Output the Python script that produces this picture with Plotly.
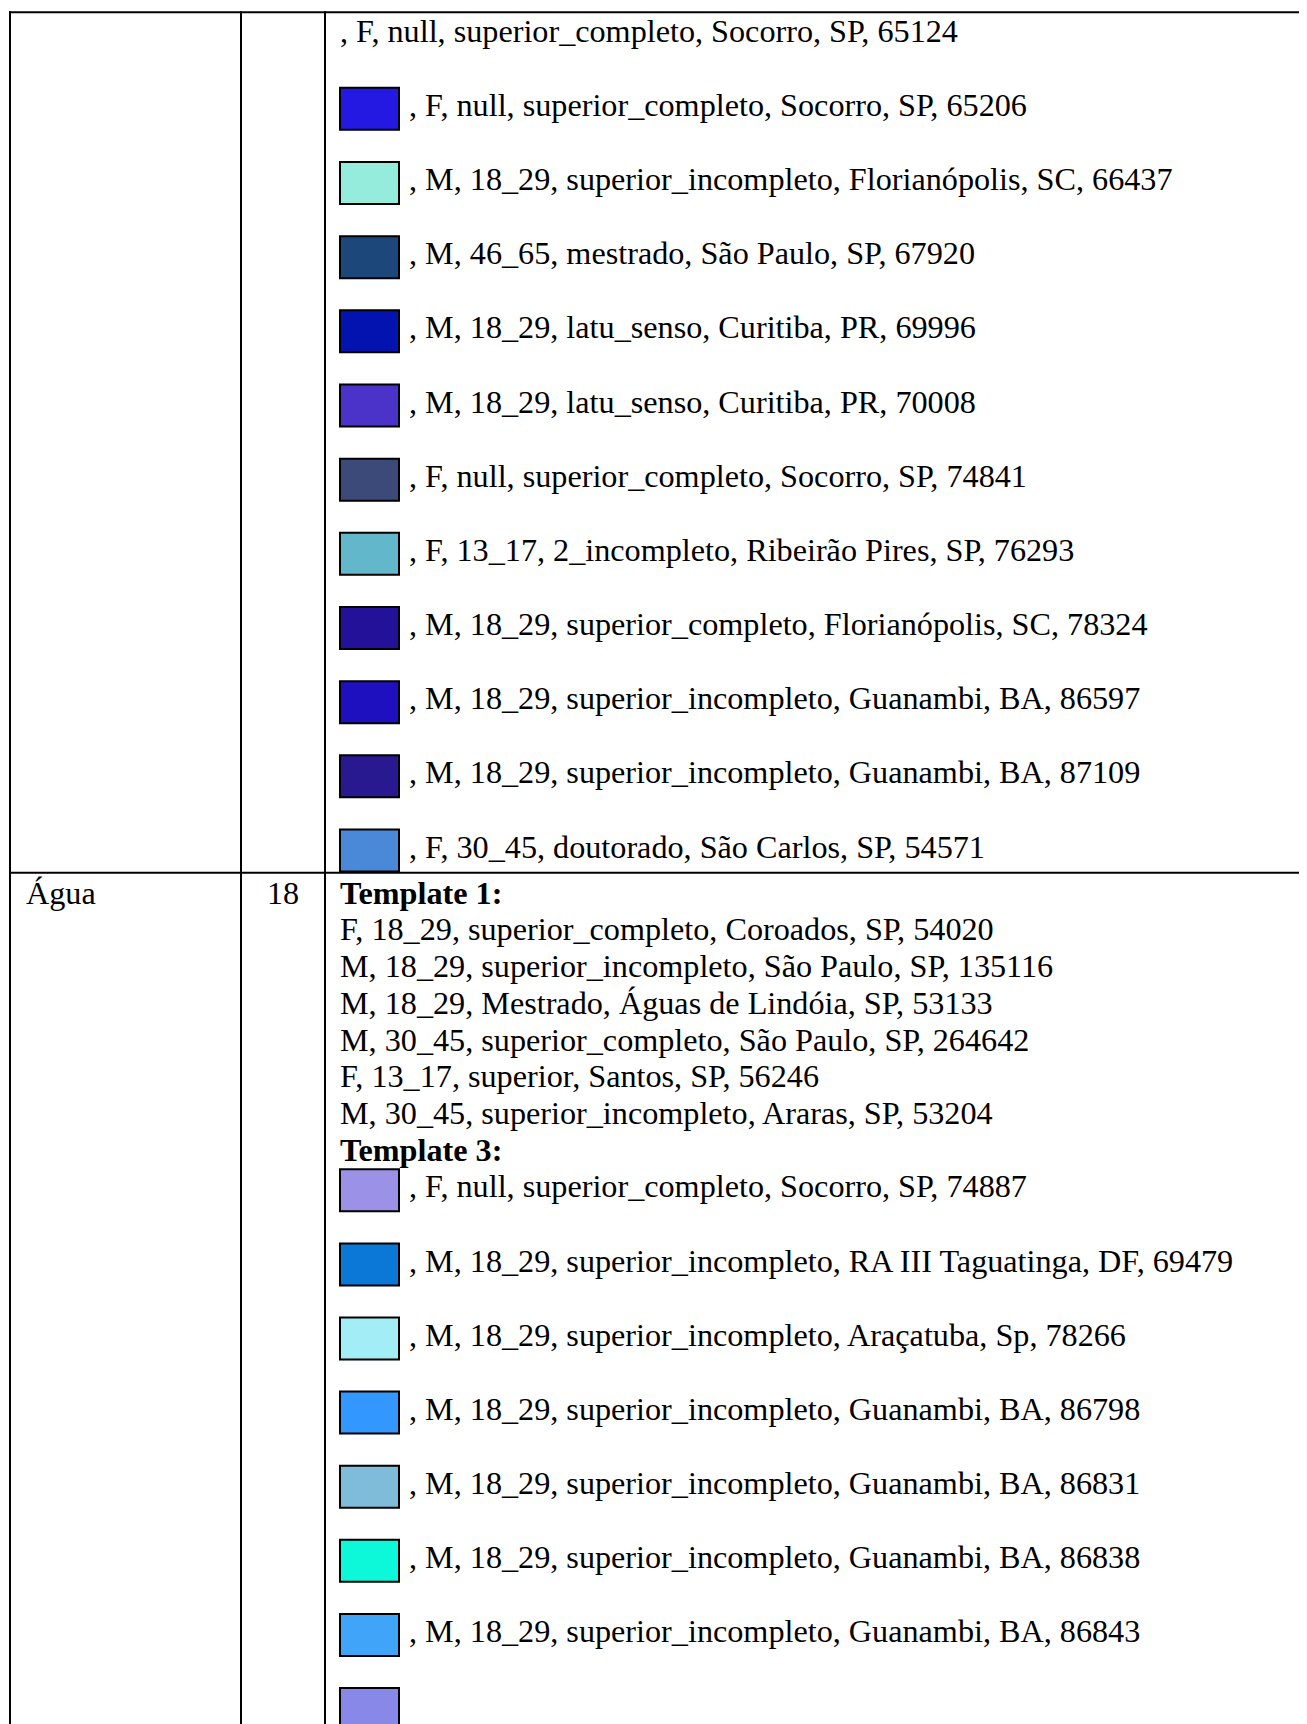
import plotly.graph_objects as go

# ---------------- data ----------------
cell1_texts = [
    ", F, null, superior_completo, Socorro, SP, 65124",
    ", F, null, superior_completo, Socorro, SP, 65206",
    ", M, 18_29, superior_incompleto, Florianópolis, SC, 66437",
    ", M, 46_65, mestrado, São Paulo, SP, 67920",
    ", M, 18_29, latu_senso, Curitiba, PR, 69996",
    ", M, 18_29, latu_senso, Curitiba, PR, 70008",
    ", F, null, superior_completo, Socorro, SP, 74841",
    ", F, 13_17, 2_incompleto, Ribeirão Pires, SP, 76293",
    ", M, 18_29, superior_completo, Florianópolis, SC, 78324",
    ", M, 18_29, superior_incompleto, Guanambi, BA, 86597",
    ", M, 18_29, superior_incompleto, Guanambi, BA, 87109",
    ", F, 30_45, doutorado, São Carlos, SP, 54571",
]
cell1_colors = [
    None,
    "#2419E2", "#96ECDC", "#1C477A", "#0213B0", "#4B32C8",
    "#3C4A7A", "#63B7CA", "#23119A", "#1F10BF", "#281990", "#4A88D8",
]

row2_label = "Água"
row2_count = "18"

template1_title = "Template 1:"
template1_lines = [
    "F, 18_29, superior_completo, Coroados, SP, 54020",
    "M, 18_29, superior_incompleto, São Paulo, SP, 135116",
    "M, 18_29, Mestrado, Águas de Lindóia, SP, 53133",
    "M, 30_45, superior_completo, São Paulo, SP, 264642",
    "F, 13_17, superior, Santos, SP, 56246",
    "M, 30_45, superior_incompleto, Araras, SP, 53204",
]

template3_title = "Template 3:"
template3_texts = [
    ", F, null, superior_completo, Socorro, SP, 74887",
    ", M, 18_29, superior_incompleto, RA III Taguatinga, DF, 69479",
    ", M, 18_29, superior_incompleto, Araçatuba, Sp, 78266",
    ", M, 18_29, superior_incompleto, Guanambi, BA, 86798",
    ", M, 18_29, superior_incompleto, Guanambi, BA, 86831",
    ", M, 18_29, superior_incompleto, Guanambi, BA, 86838",
    ", M, 18_29, superior_incompleto, Guanambi, BA, 86843",
    "",
]
template3_colors = [
    "#9B92E8", "#0B77D6", "#A3EDF7", "#3297FF",
    "#7FBCD9", "#0CF8D8", "#40A4F8", "#8888E8",
]

# ---------------- layout constants ----------------
W, H = 1307, 1724
BODY = 8                 # default page body margin
FONT = "Liberation Serif, Times New Roman, serif"
FS = 32.2
BASE_OFF = 10.9          # baseline -> middle of text box
X_TEXT = 340
X_AFTER_SWATCH = 409
SW_X0, SW_X1 = 340, 399
SW_H = 42
SW_TO_BASE = 29

fig = go.Figure()
shapes = []
annotations = []


def add_text(x, baseline, text, anchor="left"):
    annotations.append(dict(
        x=x, y=baseline - BASE_OFF, xref="x", yref="y", text=text,
        showarrow=False, xanchor=anchor, yanchor="middle",
        font=dict(family=FONT, size=FS, color="black"),
        borderpad=0, borderwidth=0,
    ))


def add_swatch(top, color):
    shapes.append(dict(
        type="rect", xref="x", yref="y",
        x0=SW_X0, x1=SW_X1, y0=top + 1, y1=top + 1 + SW_H,
        fillcolor=color, line=dict(color="black", width=2), layer="above",
    ))


# table grid
line_style = dict(color="black", width=2)
shapes.append(dict(type="line", xref="x", yref="y", x0=9, x1=W + 5, y0=12.3, y1=12.3, line=line_style))
shapes.append(dict(type="line", xref="x", yref="y", x0=9, x1=W + 5, y0=872.7, y1=872.7, line=line_style))
for xv in (10, 241, 325):
    shapes.append(dict(type="line", xref="x", yref="y", x0=xv, x1=xv, y0=11.3, y1=H + 5, line=line_style))

# first (continued) cell
PITCH1 = 74.16
for i, (t, c) in enumerate(zip(cell1_texts, cell1_colors)):
    base = 41.7 + PITCH1 * i
    if c is None:
        add_text(X_TEXT, base, t)
    else:
        add_swatch(base - SW_TO_BASE, c)
        add_text(X_AFTER_SWATCH, base, t)

# second row
ROW2_BASE = 903.4
add_text(25.5, ROW2_BASE, row2_label)
add_text(283, ROW2_BASE, row2_count, anchor="center")
add_text(X_TEXT, ROW2_BASE, "<b>" + template1_title + "</b>")
PITCH_S = 36.75
for k, t in enumerate(template1_lines, start=1):
    add_text(X_TEXT, ROW2_BASE + PITCH_S * k, t)
add_text(X_TEXT, ROW2_BASE + PITCH_S * 7, "<b>" + template3_title + "</b>")

PITCH3 = 74.1
for k, (t, c) in enumerate(zip(template3_texts, template3_colors)):
    top = 1168.3 + PITCH3 * k
    add_swatch(top, c)
    if t:
        add_text(X_AFTER_SWATCH, top + SW_TO_BASE, t)

# invisible trace to establish axes
fig.add_trace(go.Scatter(x=[BODY, W], y=[BODY, H], mode="markers",
                         marker=dict(opacity=0), hoverinfo="skip", showlegend=False))

fig.update_layout(
    width=W - BODY, height=H - BODY,
    margin=dict(l=0, r=0, t=0, b=0),
    paper_bgcolor="white", plot_bgcolor="white",
    shapes=shapes, annotations=annotations,
    xaxis=dict(range=[BODY, W], visible=False, fixedrange=True),
    yaxis=dict(range=[H, BODY], visible=False, fixedrange=True),
    showlegend=False,
)

fig.write_html("out.html", config={"displayModeBar": False})
